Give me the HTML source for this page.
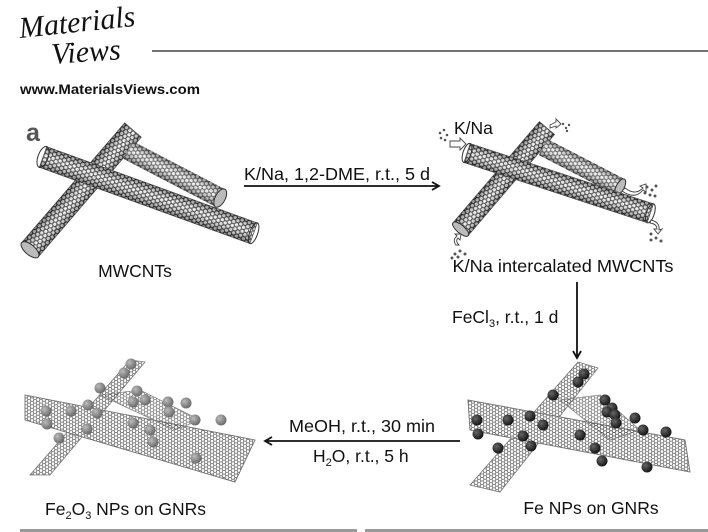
<!DOCTYPE html>
<html><head><meta charset="utf-8"><style>
html,body{margin:0;padding:0;background:#fff;}
body{width:708px;height:532px;overflow:hidden;position:relative;font-family:"Liberation Sans",Arial,sans-serif;}
svg{position:absolute;left:0;top:0;}
</style></head><body>
<svg width="708" height="532" viewBox="0 0 708 532" xmlns="http://www.w3.org/2000/svg">
<defs>
<pattern id="hex" width="7.5" height="4.33" patternUnits="userSpaceOnUse">
<path d="M0,2.165 L1.25,0 L3.75,0 L5,2.165 L3.75,4.33 L1.25,4.33 Z M5,2.165 L7.5,2.165" fill="none" stroke="#222" stroke-width="1.1"/>
</pattern>
<pattern id="hexl" width="6" height="3.46" patternUnits="userSpaceOnUse">
<path d="M0,1.73 L1,0 L3,0 L4,1.73 L3,3.46 L1,3.46 Z M4,1.73 L6,1.73" fill="none" stroke="#555" stroke-width="0.7"/>
</pattern>
<linearGradient id="sh" x1="0" y1="0" x2="0" y2="1">
<stop offset="0" stop-color="#000" stop-opacity="0.4"/>
<stop offset="0.45" stop-color="#fff" stop-opacity="0.25"/>
<stop offset="1" stop-color="#000" stop-opacity="0.45"/>
</linearGradient>
<radialGradient id="ball" cx="0.35" cy="0.35" r="0.7">
<stop offset="0" stop-color="#bbb"/><stop offset="1" stop-color="#666"/>
</radialGradient>
<radialGradient id="dball" cx="0.35" cy="0.35" r="0.7">
<stop offset="0" stop-color="#666"/><stop offset="1" stop-color="#111"/>
</radialGradient>
<marker id="ah" markerWidth="10" markerHeight="10" refX="8" refY="5" orient="auto" markerUnits="userSpaceOnUse">
<path d="M1,1 L8,5 L1,9" fill="none" stroke="#111" stroke-width="1.8"/>
</marker>
</defs>

<text x="20" y="38" font-family="Liberation Serif, serif" font-style="italic" font-size="30" fill="#111" transform="rotate(-6 20 38)">Materials</text>
<text x="52" y="64" font-family="Liberation Serif, serif" font-style="italic" font-size="30" fill="#111" transform="rotate(-4 52 64)">Views</text>
<line x1="152" y1="51" x2="708" y2="51" stroke="#222" stroke-width="1.2"/>
<text x="20" y="94" font-size="14" font-weight="bold" fill="#111" textLength="180" lengthAdjust="spacingAndGlyphs">www.MaterialsViews.com</text>
<text x="26" y="141" font-size="25" font-weight="bold" fill="#555">a</text>

<g transform="translate(133,130) rotate(130.7)"><rect x="0" y="-11" width="158" height="22" fill="#eee"/><rect x="0" y="-11" width="158" height="22" fill="url(#hex)"/><rect x="0" y="-11" width="158" height="22" fill="url(#sh)" stroke="#444" stroke-width="0.6"/><ellipse cx="158" cy="0" rx="5" ry="11" fill="#bbb" stroke="#333"/></g>
<g transform="translate(128,150) rotate(27.5)"><rect x="0" y="-10" width="104" height="20" fill="#eee"/><rect x="0" y="-10" width="104" height="20" fill="url(#hex)" opacity="0.8"/><rect x="0" y="-10" width="104" height="20" fill="url(#sh)"/><ellipse cx="104" cy="0" rx="5" ry="10" fill="#bbb" stroke="#333"/></g>
<g transform="translate(43,157) rotate(19.9)"><rect x="0" y="-11" width="224" height="22" fill="#eee"/><rect x="0" y="-11" width="224" height="22" fill="url(#hex)"/><rect x="0" y="-11" width="224" height="22" fill="url(#sh)" stroke="#444" stroke-width="0.6"/><ellipse cx="0" cy="0" rx="5" ry="11" fill="none" stroke="#333"/><ellipse cx="224" cy="0" rx="4" ry="11" fill="none" stroke="#333"/></g>
<text x="135" y="277" font-size="17.5" fill="#111" text-anchor="middle">MWCNTs</text>

<text x="337" y="180" font-size="17.5" fill="#111" text-anchor="middle" textLength="186" lengthAdjust="spacingAndGlyphs">K/Na, 1,2-DME, r.t., 5 d</text>
<line x1="244" y1="186" x2="439" y2="186" stroke="#111" stroke-width="1.8" marker-end="url(#ah)"/>

<g transform="translate(547,128) rotate(130.5)"><rect x="0" y="-10" width="133" height="20" fill="#eee"/><rect x="0" y="-10" width="133" height="20" fill="url(#hex)"/><rect x="0" y="-10" width="133" height="20" fill="url(#sh)" stroke="#444" stroke-width="0.6"/><ellipse cx="133" cy="0" rx="4" ry="10" fill="#bbb" stroke="#333"/></g>
<g transform="translate(543,147) rotate(27.4)"><rect x="0" y="-9" width="87" height="18" fill="#eee"/><rect x="0" y="-9" width="87" height="18" fill="url(#hex)" opacity="0.8"/><rect x="0" y="-9" width="87" height="18" fill="url(#sh)"/><ellipse cx="87" cy="0" rx="4" ry="9" fill="#bbb" stroke="#333"/></g>
<g transform="translate(467,153) rotate(18.2)"><rect x="0" y="-10" width="193" height="20" fill="#eee"/><rect x="0" y="-10" width="193" height="20" fill="url(#hex)"/><rect x="0" y="-10" width="193" height="20" fill="url(#sh)" stroke="#444" stroke-width="0.6"/><ellipse cx="0" cy="0" rx="4" ry="10" fill="none" stroke="#333"/><ellipse cx="193" cy="0" rx="4" ry="10" fill="none" stroke="#333"/></g>
<g fill="#555">
<circle cx="440" cy="133" r="1.3"/><circle cx="444" cy="130" r="1.3"/><circle cx="447" cy="135" r="1.3"/><circle cx="441" cy="138" r="1.3"/><circle cx="445" cy="140" r="1.3"/>
<circle cx="563" cy="124" r="1.2"/><circle cx="566" cy="128" r="1.2"/><circle cx="569" cy="125" r="1.2"/><circle cx="567" cy="131" r="1.2"/>
<circle cx="647" cy="187" r="1.5"/><circle cx="652" cy="190" r="1.5"/><circle cx="656" cy="186" r="1.5"/><circle cx="650" cy="195" r="1.5"/><circle cx="655" cy="196" r="1.5"/><circle cx="645" cy="193" r="1.5"/>
<circle cx="651" cy="234" r="1.5"/><circle cx="657" cy="231" r="1.5"/><circle cx="651" cy="240" r="1.5"/><circle cx="656" cy="238" r="1.5"/><circle cx="661" cy="241" r="1.5"/>
<circle cx="455" cy="254" r="1.5"/><circle cx="460" cy="251" r="1.5"/><circle cx="465" cy="254" r="1.5"/><circle cx="458" cy="257" r="1.5"/><circle cx="452" cy="258" r="1.5"/>
</g>
<g fill="#fff" stroke="#444" stroke-width="0.9">
<path d="M450,141 L460,141 L460,138 L466,144 L460,150 L460,147 L450,147 Z"/>
<path d="M625,188 Q635,196 643,188 L640,186 L646,184 L646,192 L643,190 Q635,200 622,191 Z"/>
<path d="M550,125 L556,122 L556,119 L561,124 L556,128 L556,126 L550,128 Z"/>
<path d="M651,220 Q660,222 659,230 L662,229 L658,234 L654,229 L657,229 Q657,224 650,223 Z"/>
<path d="M456,245 Q452,240 457,236 L455,234 L461,234 L460,240 L458,238 Q455,241 459,245 Z"/>
</g>
<text x="454" y="134" font-size="17.5" fill="#111">K/Na</text>
<text x="563" y="272" font-size="17.5" fill="#111" text-anchor="middle" textLength="221" lengthAdjust="spacingAndGlyphs">K/Na intercalated MWCNTs</text>

<line x1="577" y1="282" x2="577" y2="358" stroke="#111" stroke-width="1.8" marker-end="url(#ah)"/>
<text x="452" y="323" font-size="17.5" fill="#111">FeCl<tspan font-size="11" dy="4">3</tspan><tspan dy="-4">, r.t., 1 d</tspan></text>

<g stroke="#777" stroke-width="0.8">
<polygon points="578,362 598,368 500,492 470,485" fill="url(#hexl)"/>
<polygon points="468,400 685,440 690,472 470,430" fill="#fff"/>
<polygon points="468,400 685,440 690,472 470,430" fill="url(#hexl)"/>
<polygon points="560,400 600,395 640,430 610,440" fill="url(#hexl)" opacity="0.9"/>
</g>
<g fill="url(#dball)">
<circle cx="584" cy="374" r="5.5"/><circle cx="578" cy="382" r="5.5"/><circle cx="553" cy="395" r="5.5"/><circle cx="605" cy="400" r="5.5"/><circle cx="612" cy="408" r="5.5"/>
<circle cx="607" cy="412" r="5.5"/><circle cx="477" cy="420" r="5.5"/><circle cx="478" cy="434" r="5.5"/><circle cx="508" cy="420" r="5.5"/><circle cx="530" cy="416" r="5.5"/>
<circle cx="543" cy="425" r="5.5"/><circle cx="523" cy="436" r="5.5"/><circle cx="531" cy="446" r="5.5"/><circle cx="498" cy="448" r="5.5"/><circle cx="580" cy="435" r="5.5"/>
<circle cx="595" cy="448" r="5.5"/><circle cx="615" cy="415" r="5.5"/><circle cx="635" cy="418" r="5.5"/><circle cx="643" cy="430" r="5.5"/><circle cx="666" cy="432" r="5.5"/>
<circle cx="616" cy="423" r="5.5"/><circle cx="647" cy="467" r="5.5"/><circle cx="602" cy="461" r="5.5"/>
</g>
<text x="591" y="514" font-size="17.5" fill="#111" text-anchor="middle">Fe NPs on GNRs</text>

<text x="362" y="432" font-size="17.5" fill="#111" text-anchor="middle" textLength="146" lengthAdjust="spacingAndGlyphs">MeOH, r.t., 30 min</text>
<line x1="460" y1="441" x2="265" y2="441" stroke="#111" stroke-width="1.8" marker-end="url(#ah)"/>
<text x="313" y="462" font-size="17.5" fill="#111">H<tspan font-size="11" dy="4">2</tspan><tspan dy="-4">O, r.t., 5 h</tspan></text>

<g stroke="#777" stroke-width="0.8">
<polygon points="130,360 145,362 50,475 30,475" fill="url(#hexl)"/>
<polygon points="25,395 255,440 235,482 25,420" fill="#fff"/>
<polygon points="25,395 255,440 235,482 25,420" fill="url(#hexl)"/>
<polygon points="100,395 140,390 200,420 175,430" fill="url(#hexl)" opacity="0.9"/>
</g>
<g fill="url(#ball)">
<circle cx="131" cy="364" r="5.5"/><circle cx="124" cy="373" r="5.5"/><circle cx="100" cy="388" r="5.5"/><circle cx="137" cy="391" r="5.5"/><circle cx="145" cy="400" r="5.5"/>
<circle cx="133" cy="402" r="5.5"/><circle cx="46" cy="411" r="5.5"/><circle cx="47" cy="424" r="5.5"/><circle cx="71" cy="411" r="5.5"/><circle cx="88" cy="405" r="5.5"/>
<circle cx="97" cy="413" r="5.5"/><circle cx="87" cy="429" r="5.5"/><circle cx="59" cy="438" r="5.5"/><circle cx="133" cy="423" r="5.5"/><circle cx="150" cy="430" r="5.5"/>
<circle cx="153" cy="442" r="5.5"/><circle cx="168" cy="402" r="5.5"/><circle cx="169" cy="412" r="5.5"/><circle cx="186" cy="403" r="5.5"/><circle cx="195" cy="420" r="5.5"/>
<circle cx="221" cy="420" r="5.5"/><circle cx="196" cy="458" r="5.5"/>
</g>
<text x="45" y="515" font-size="17.5" fill="#111">Fe<tspan font-size="11" dy="4">2</tspan><tspan dy="-4">O</tspan><tspan font-size="11" dy="4">3</tspan><tspan dy="-4"> NPs on GNRs</tspan></text>

<rect x="20" y="529" width="337" height="3" fill="#999"/>
<rect x="365" y="529" width="343" height="3" fill="#999"/>
</svg>
</body></html>
